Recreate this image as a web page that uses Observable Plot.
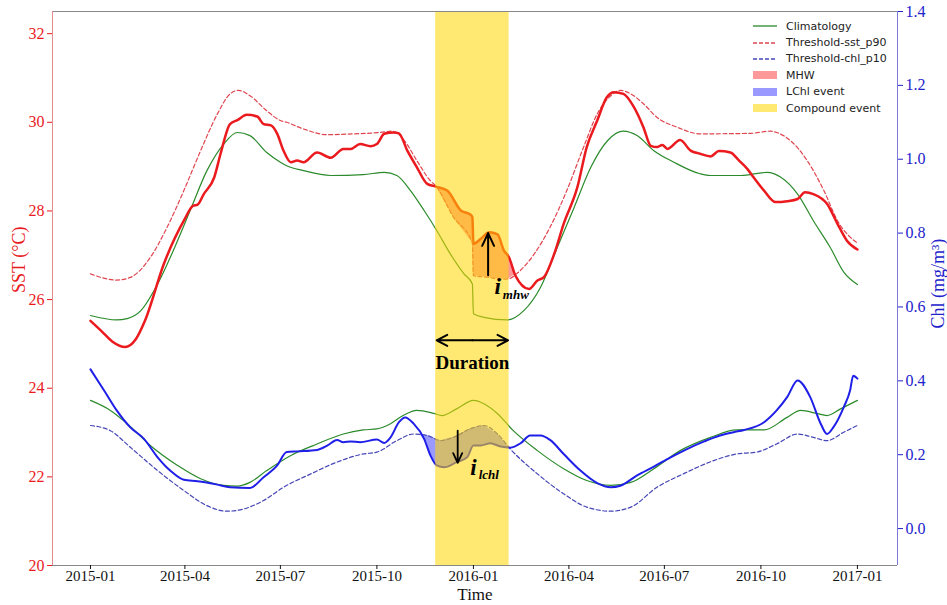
<!DOCTYPE html>
<html>
<head>
<meta charset="utf-8">
<script src="https://cdn.jsdelivr.net/npm/d3@7"></script>
<script src="https://cdn.jsdelivr.net/npm/@observablehq/plot@0.6"></script>
<style>
  html, body { margin: 0; padding: 0; background: white; }
  #wrap { position: relative; width: 947px; height: 605px; }
  #legend { position: absolute; left: 753px; top: 18px; font-family: "DejaVu Sans", sans-serif; font-size: 11px; color: #222; }
  #legend .row { display: flex; align-items: center; height: 16.4px; }
  #legend .sw { width: 24px; height: 16px; margin-right: 9px; display: flex; align-items: center; }
</style>
</head>
<body>
<div id="wrap"><div id="chart"></div><div id="legend"></div></div>
<script>
// ---- data (days since 2015-01-01, values) ----
const sstDay = [0,10,21,33,43,52,70,89,98,102,108,118,124,133,140,149,159,165,172,178,184,191,197,203,216,229,241,248,257,267,273,280,289,294,302,311,321,329,340,353,362,364,365,372,380,388,394,399,405,418,426,432,442,451,464,473,483,492,499,508,518,527,534,540,545,550,562,572,581,591,599,610,618,626,632,642,653,664,674,681,689,702,712,721,731];
const sst = [25.52,25.30,25.05,24.93,25.10,25.53,26.81,27.78,28.12,28.14,28.38,28.76,29.29,29.96,30.05,30.17,30.13,29.96,29.93,29.74,29.36,29.10,29.14,29.10,29.32,29.20,29.40,29.40,29.51,29.46,29.51,29.74,29.77,29.75,29.36,28.99,28.61,28.55,28.46,28.01,27.92,27.86,27.26,27.37,27.52,27.47,27.11,26.95,26.54,26.24,26.43,26.50,27.03,27.71,28.53,29.44,30.04,30.56,30.68,30.64,30.34,29.89,29.47,29.44,29.49,29.40,29.60,29.36,29.29,29.23,29.35,29.32,29.14,28.95,28.76,28.46,28.20,28.22,28.27,28.42,28.38,28.16,27.71,27.33,27.13];

const sstClimDay = [0,25,35,48,64,79,95,111,127,140,152,168,181,187,203,229,260,280,292,305,318,330,343,356,364,365,375,397,413,429,445,461,477,493,508,521,537,556,581,591,620,645,658,674,689,705,718,731];
const sstClim = [25.64,25.54,25.57,25.75,26.35,27.11,28.01,28.91,29.51,29.77,29.70,29.32,29.10,29.02,28.91,28.80,28.82,28.87,28.80,28.46,28.01,27.56,27.03,26.58,26.35,25.68,25.60,25.54,25.75,26.28,27.18,28.08,28.99,29.59,29.80,29.70,29.36,29.10,28.84,28.80,28.80,28.87,28.76,28.38,27.78,27.18,26.62,26.34];

const sstThrDay = [0,25,38,57,73,89,105,121,133,141,152,168,181,187,203,226,251,276,288,299,311,324,329,346,364,365,380,390,399,406,423,438,454,470,483,496,505,515,527,540,559,581,629,648,654,667,683,699,712,724,731];
const sstThr = [26.58,26.44,26.50,26.95,27.63,28.46,29.36,30.19,30.64,30.72,30.60,30.26,30.04,30.00,29.85,29.72,29.74,29.77,29.80,29.59,29.14,28.68,28.57,27.86,27.28,26.54,26.50,26.46,26.47,26.58,27.03,27.63,28.46,29.44,30.19,30.60,30.72,30.64,30.42,30.11,29.89,29.74,29.75,29.80,29.77,29.59,29.14,28.46,27.78,27.41,27.28];

const chlDay = [0,13,25,38,51,64,76,89,102,121,133,152,165,178,187,197,216,226,235,241,248,257,273,280,286,294,300,308,318,324,330,337,349,359,365,372,381,391,400,410,419,429,438,451,467,483,496,505,521,537,553,569,585,600,613,623,642,654,664,674,686,696,702,708,718,724,727,731];
const chl = [0.431,0.374,0.320,0.274,0.243,0.193,0.157,0.132,0.128,0.119,0.112,0.110,0.139,0.171,0.207,0.209,0.213,0.225,0.240,0.234,0.236,0.234,0.241,0.232,0.247,0.288,0.301,0.284,0.243,0.198,0.171,0.166,0.180,0.193,0.225,0.225,0.231,0.222,0.219,0.231,0.252,0.252,0.240,0.202,0.157,0.123,0.112,0.116,0.144,0.168,0.193,0.216,0.236,0.252,0.261,0.267,0.288,0.320,0.356,0.401,0.356,0.284,0.256,0.274,0.329,0.374,0.414,0.406];

const chlClimDay = [0,19,35,57,83,105,127,140,152,168,191,216,241,260,273,286,298,311,327,335,349,365,375,388,403,426,451,473,496,515,537,562,591,616,642,664,677,693,702,715,731];
const chlClim = [0.347,0.320,0.284,0.225,0.171,0.135,0.117,0.115,0.125,0.157,0.198,0.229,0.256,0.267,0.270,0.284,0.306,0.320,0.312,0.306,0.324,0.347,0.338,0.311,0.265,0.211,0.162,0.130,0.117,0.125,0.162,0.211,0.247,0.267,0.267,0.301,0.320,0.311,0.306,0.324,0.347];

const chlThrDay = [0,19,38,64,89,111,130,146,165,184,210,235,260,273,292,308,321,334,346,362,375,388,400,426,451,473,496,515,540,565,594,616,635,654,674,689,702,718,731];
const chlThr = [0.279,0.265,0.220,0.157,0.103,0.062,0.047,0.053,0.076,0.112,0.148,0.180,0.202,0.207,0.238,0.256,0.252,0.238,0.247,0.270,0.279,0.256,0.216,0.148,0.094,0.058,0.047,0.058,0.112,0.148,0.184,0.202,0.207,0.229,0.256,0.247,0.238,0.261,0.279];

const compoundEvent = [329, 399];       // days
const mhwWindow = [326, 408];
const lchlWindow = [314, 401];

const xTickDates = ["2015-01-01","2015-04-01","2015-07-01","2015-10-01","2016-01-01","2016-04-01","2016-07-01","2016-10-01","2017-01-01"];
const sstTicks = [20,22,24,26,28,30,32];
const chlTicks = [0.0,0.2,0.4,0.6,0.8,1.0,1.2,1.4];

// annotations (data units)
const arrowMhw = {day: 379, from: 26.55, to: 27.50};
const arrowLchl = {day: 350, from: 0.265, to: 0.178};
const durationArrow = {from: 330, to: 398, mid: 364, y: 25.08};
const labels = [
  {day: 385, y: 26.30, text: "i", size: 23, axis: "sst"},
  {day: 393, y: 26.10, text: "mhw", size: 13, axis: "sst"},
  {day: 362, y: 0.166, text: "i", size: 23, axis: "chl"},
  {day: 370, y: 0.145, text: "lchl", size: 13, axis: "chl"}
];

// ---- helpers ----
const DAY = 864e5, BASE = Date.UTC(2015, 0, 1);
const toDate = d => new Date(BASE + d * DAY);
const toS = c => 20 + (c + 0.1) * (12.5 / 1.5);
const fromS = s => (s - 20) * 1.5 / 12.5 - 0.1;
const rows = (ds, vs) => ds.map((d, i) => ({date: toDate(d), v: vs[i]}));
function interp(ds, vs, d) {
  const i = d3.bisectRight(ds, d);
  if (i <= 0) return vs[0];
  if (i >= ds.length) return vs[vs.length - 1];
  const d0 = ds[i - 1], d1 = ds[i];
  return vs[i - 1] + (vs[i] - vs[i - 1]) * (d - d0) / (d1 - d0);
}
function between(dA, vA, dB, vB, [lo, hi]) {
  const grid = Array.from(new Set([lo, hi, ...dA.filter(d => d > lo && d < hi), ...dB.filter(d => d > lo && d < hi)])).sort((a, b) => a - b);
  return grid.map(d => ({date: toDate(d), a: interp(dA, vA, d), b: interp(dB, vB, d)}));
}
const fmtChl = d => { const v = Math.round(fromS(d) * 10) / 10; return (Math.abs(v) < 1e-9 ? 0 : v).toFixed(1); };

const RED = "#ea1a1e", RED_D = "#e0454f", GREEN = "#2b8a2b", BLUE = "#1f1fe8", BLUE_D = "#4646b8";
const SERIF = "'Liberation Serif', 'Times New Roman', serif";

const mhwArea = between(sstDay, sst, sstThrDay, sstThr, mhwWindow);
const lchlArea = between(chlDay, chl, chlThrDay, chlThr, lchlWindow);

const chart = Plot.plot({
  width: 947, height: 605,
  marginLeft: 52, marginRight: 50, marginTop: 11, marginBottom: 40,
  style: {fontFamily: SERIF, fontSize: "16px", background: "white", overflow: "visible"},
  x: {type: "utc", domain: [toDate(-36.2), toDate(769.2)]},
  y: {domain: [20, 32.5]},
  marks: [
    Plot.areaY(mhwArea, {x: "date", y1: "b", y2: d => Math.max(d.a, d.b), fill: "#ff0000", fillOpacity: 0.4}),
    Plot.areaY(lchlArea, {x: "date", y1: d => toS(Math.min(d.a, d.b)), y2: d => toS(d.b), fill: "#0000ff", fillOpacity: 0.4}),
    Plot.line(rows(sstClimDay, sstClim), {x: "date", y: "v", stroke: GREEN, strokeWidth: 1.2, curve: "monotone-x"}),
    Plot.line(rows(sstThrDay, sstThr), {x: "date", y: "v", stroke: RED_D, strokeWidth: 1.2, strokeDasharray: "4,2.5", curve: "monotone-x"}),
    Plot.line(rows(sstDay, sst), {x: "date", y: "v", stroke: RED, strokeWidth: 2.5, curve: "monotone-x"}),
    Plot.line(rows(chlClimDay, chlClim), {x: "date", y: d => toS(d.v), stroke: GREEN, strokeWidth: 1.2, curve: "monotone-x"}),
    Plot.line(rows(chlThrDay, chlThr), {x: "date", y: d => toS(d.v), stroke: BLUE_D, strokeWidth: 1.2, strokeDasharray: "4,2.5", curve: "monotone-x"}),
    Plot.line(rows(chlDay, chl), {x: "date", y: d => toS(d.v), stroke: BLUE, strokeWidth: 2, curve: "monotone-x"}),
    Plot.rect([{x1: toDate(compoundEvent[0]), x2: toDate(compoundEvent[1])}], {x1: "x1", x2: "x2", y1: 20, y2: 32.5, fill: "#ffd700", fillOpacity: 0.55}),
    // arrows
    Plot.arrow([arrowMhw], {x1: d => toDate(d.day), x2: d => toDate(d.day), y1: "from", y2: "to", stroke: "black", strokeWidth: 2, headLength: 12, headAngle: 50}),
    Plot.arrow([arrowLchl], {x1: d => toDate(d.day), x2: d => toDate(d.day), y1: d => toS(d.from), y2: d => toS(d.to), stroke: "black", strokeWidth: 1.8, headLength: 12, headAngle: 50}),
    Plot.arrow([{a: durationArrow.mid, b: durationArrow.from}, {a: durationArrow.mid, b: durationArrow.to}], {x1: d => toDate(d.a), x2: d => toDate(d.b), y1: durationArrow.y, y2: durationArrow.y, stroke: "black", strokeWidth: 2, headLength: 11, headAngle: 55}),
    Plot.text([{day: durationArrow.mid, y: 24.57, t: "Duration"}], {x: d => toDate(d.day), y: "y", text: "t", fontWeight: "bold", fontSize: 19, fill: "black"}),
    ...labels.map(l => Plot.text([l], {x: d => toDate(d.day), y: d => l.axis === "sst" ? d.y : toS(d.y), text: "text", textAnchor: "start", fontWeight: "bold", fontStyle: "italic", fontSize: l.size, fill: "black"})),
    // spines
    Plot.ruleY([32.5], {stroke: "#888"}),
    Plot.ruleY([20], {stroke: "#888"}),
    Plot.ruleX([toDate(-36.2)], {stroke: "#e58a8a"}),
    Plot.ruleX([toDate(769.2)], {stroke: "#7a7ad6"}),
    // axes
    Plot.axisX({ticks: xTickDates.map(s => new Date(s + "T00:00Z")), tickFormat: d3.utcFormat("%Y-%m"), tickSize: 4, tickPadding: 1, label: null, color: "#111", fontSize: 15}),
    Plot.axisY({anchor: "left", ticks: sstTicks, tickFormat: d => String(d), tickSize: 5, tickPadding: 3, label: null, color: RED, fontSize: 16}),
    Plot.axisY({anchor: "right", ticks: chlTicks.map(toS), tickFormat: fmtChl, tickSize: 5, tickPadding: 3, label: null, color: "#2222cc", fontSize: 16}),
    // axis labels
    Plot.text([{y: 26.15, t: "SST (°C)"}], {y: "y", text: "t", frameAnchor: "left", dx: -33, rotate: -90, fill: RED, fontSize: 18}),
    Plot.text([{y: toS(0.785), t: "Chl (mg/m³)"}], {y: "y", text: "t", frameAnchor: "right", dx: 41, rotate: -90, fill: "#2222cc", fontSize: 18}),
    Plot.text([{t: "Time"}], {text: "t", frameAnchor: "bottom", dy: 34, fill: "#111", fontSize: 17})
  ]
});
document.getElementById("chart").appendChild(chart);

// legend
const legendItems = [
  {label: "Climatology", kind: "line", color: GREEN},
  {label: "Threshold-sst_p90", kind: "dash", color: RED_D},
  {label: "Threshold-chl_p10", kind: "dash", color: BLUE_D},
  {label: "MHW", kind: "patch", color: "rgba(255,0,0,0.4)"},
  {label: "LChl event", kind: "patch", color: "rgba(0,0,255,0.4)"},
  {label: "Compound event", kind: "patch", color: "rgba(255,215,0,0.55)"}
];
const leg = document.getElementById("legend");
for (const it of legendItems) {
  const row = document.createElement("div"); row.className = "row";
  let sw;
  if (it.kind === "patch") sw = `<svg width="24" height="16"><rect x="0" y="4" width="24" height="8" fill="${it.color}"/></svg>`;
  else sw = `<svg width="24" height="16"><line x1="0" x2="24" y1="8" y2="8" stroke="${it.color}" stroke-width="1.3" ${it.kind === "dash" ? 'stroke-dasharray="4,2"' : ""}/></svg>`;
  row.innerHTML = `<div class="sw">${sw}</div><span>${it.label}</span>`;
  leg.appendChild(row);
}
</script>
</body>
</html>
